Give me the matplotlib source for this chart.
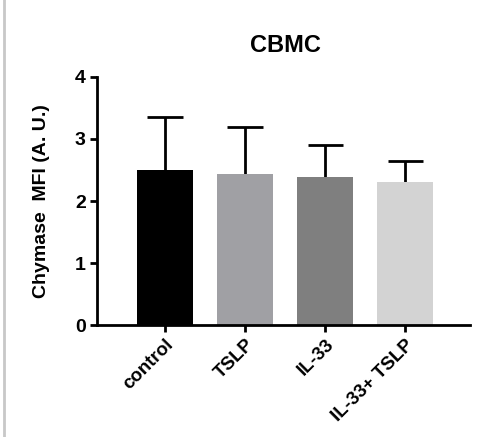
import numpy as np
import matplotlib.pyplot as plt
from matplotlib.lines import Line2D

plt.rcParams["font.family"] = ["Liberation Sans", "DejaVu Sans"]

groups = ["control", "TSLP", "IL-33", "IL-33+ TSLP"]
means = [2.50, 2.44, 2.38, 2.30]
sd = [0.85, 0.75, 0.52, 0.35]
colors = ["#000000", "#a0a0a4", "#7f7f7f", "#d3d3d3"]

fig = plt.figure(figsize=(5, 4.37), dpi=100)
ax = fig.add_axes([0.194, 0.256, 0.746, 0.568])

x = np.arange(len(groups))
upper = np.array(means) + np.array(sd)
ax.bar(x, means, width=0.7, color=colors, edgecolor="none", zorder=2)
# upper-only error bars (SD)
ax.vlines(x, means, upper, colors="black", linewidth=2, zorder=1)
ax.hlines(upper, x - 0.22, x + 0.22, colors="black", linewidth=2, zorder=1)

ax.set_xlim(-0.85, 3.81)
ax.set_ylim(0, 4)
ax.set_yticks([0, 1, 2, 3, 4])
ax.set_xticks(x)
ax.set_xticklabels(groups, rotation=45, ha="right", rotation_mode="anchor",
                   fontweight="bold", fontsize=13.5)
for lab in ax.get_yticklabels():
    lab.set_fontweight("bold")
    lab.set_fontsize(14)
ax.tick_params(width=2, length=5, pad=3)
ax.spines["top"].set_visible(False)
ax.spines["right"].set_visible(False)
ax.spines["left"].set_linewidth(2)
ax.spines["bottom"].set_linewidth(2)

ax.set_ylabel("Chymase  MFI (A. U.)", fontweight="bold", fontsize=14, labelpad=18)
fig.text(0.57, 0.895, "CBMC", ha="center", va="center", fontweight="bold", fontsize=17)

# thin gray frame line on the left edge
fig.add_artist(Line2D([0.007, 0.007], [0, 1], color="#c8c8c8", lw=2, transform=fig.transFigure))

fig.savefig("out.png", dpi=100)
